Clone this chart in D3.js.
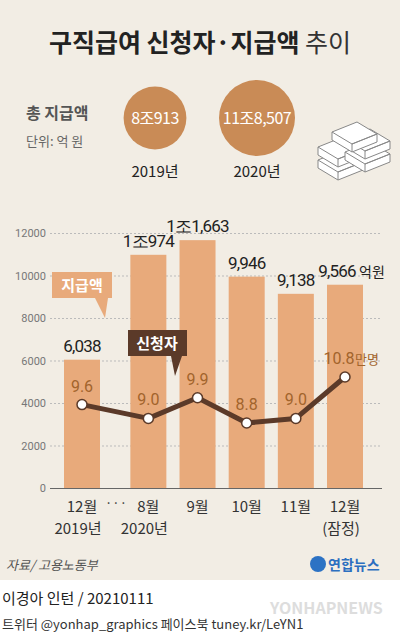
<!DOCTYPE html>
<html><head><meta charset="utf-8">
<script src="https://cdn.jsdelivr.net/npm/d3@7"></script>
<style>body{margin:0;}svg{display:block;font-family:"Noto Sans CJK KR","Noto Sans",sans-serif;}</style>
</head><body><svg id="c" width="400" height="637"></svg>
<script>
const months = ["12월","8월","9월","10월","11월","12월"];
const years = ["2019년","2020년","","","","(잠정)"];
const slots = [0,1.35,2.35,3.35,4.35,5.35];
const amounts = [6038,10974,11663,9946,9138,9566];
const amountLabels = ["6,038","1조974","1조1,663","9,946","9,138","9,566"];
const applicants = [9.6,9.0,9.9,8.8,9.0,10.8];
const applicantLabels = ["9.6","9.0","9.9","8.8","9.0","10.8"];
const yTicks = [0,2000,4000,6000,8000,10000,12000];
const totals = [{label:"8조913",year:"2019년",v:80913},{label:"11조8,507",year:"2020년",v:118507}];

const svg = d3.select("#c");
svg.append("rect").attr("width",400).attr("height",580).attr("fill","#f2ede4");
svg.append("rect").attr("y",580).attr("width",400).attr("height",57).attr("fill","#fff");

svg.append("text").attr("x",200).attr("y",52).attr("text-anchor","middle").attr("font-size",25).attr("font-weight",700).attr("fill","#222")
  .text("구직급여 신청자·지급액 ").append("tspan").attr("font-weight",400).attr("fill","#333").text("추이");

svg.append("text").attr("x",26).attr("y",119).attr("font-size",16).attr("font-weight",700).attr("fill","#555").text("총 지급액");
svg.append("text").attr("x",26).attr("y",146).attr("font-size",13).attr("fill","#666").text("단위: 억 원");

const rScale = d3.scaleSqrt().domain([0,118507]).range([0,38]);
const cx = [155,257];
totals.forEach((t,i)=>{
  svg.append("circle").attr("cx",cx[i]).attr("cy",118).attr("r",rScale(t.v)).attr("fill","#c98b56");
  svg.append("text").attr("x",cx[i]).attr("y",124).attr("text-anchor","middle").attr("font-size",16).attr("fill","#fff").attr("letter-spacing",-0.5).text(t.label);
  svg.append("text").attr("x",cx[i]).attr("y",177).attr("text-anchor","middle").attr("font-size",15).attr("fill","#222").text(t.year);
});
const ic = svg.append("g").attr("fill","#fff").attr("stroke","#888").attr("stroke-width",1);
[[318,160],[318,147],[345,152],[345,139],[332,132]].forEach(([x,y])=>{
  ic.append("path").attr("d",`M${x},${y} l25,-10 l20,12 l-25,10 z M${x},${y} v8 l20,12 v-8 M${x+20},${y+12} l25,-10 v8 l-25,10`);
});

const y = d3.scaleLinear().domain([0,12000]).range([488,233]);
const xs = d3.scaleLinear().domain([0,5.35]).range([82,345]);
const bw = 36;
const yl = d3.scaleLinear().domain([8.8,10.8]).range([423,377]);

const ga = svg.append("g").attr("transform","translate(50,0)").call(d3.axisLeft(y).tickValues(yTicks).tickSize(-332).tickFormat(d3.format("d")));
ga.select(".domain").remove();
ga.selectAll(".tick line").attr("stroke","#bbb").attr("stroke-dasharray","2,2");
ga.selectAll(".tick text").attr("font-size",11).attr("fill","#777").attr("x",-4).attr("font-family","Roboto,sans-serif");
ga.selectAll(".tick").filter(d=>d===0).select("line").attr("stroke","#666").attr("stroke-dasharray",null).attr("stroke-width",1.2);

const cxs = i=>xs(slots[i]);
svg.selectAll(".bar").data(amounts).join("rect").attr("x",(d,i)=>cxs(i)-bw/2).attr("width",bw)
  .attr("y",d=>y(d)).attr("height",d=>488-y(d)).attr("fill","#e8aa7b");
svg.selectAll(".bl").data(amountLabels).join("text").attr("x",(d,i)=>cxs(i)+(i===5?-8:0)).attr("y",(d,i)=>y(amounts[i])-8)
  .attr("text-anchor","middle").attr("font-size",17).attr("fill","#222").attr("font-family","Roboto,sans-serif").attr("letter-spacing",-0.8).text(d=>d);
svg.append("text").attr("x",cxs(5)+14).attr("y",y(amounts[5])-8).attr("font-size",14).attr("fill","#222").text("억원");

svg.append("path").attr("d","M52,272 h60 v26 h-4 l-3,20 l-10,-20 h-43 z").attr("fill","#e8aa7b");
svg.append("text").attr("x",82).attr("y",291).attr("text-anchor","middle").attr("font-size",15).attr("font-weight",700).attr("fill","#fff").text("지급액");
svg.append("path").attr("d","M128,330 h59 v26 h-5 l-7,20 l-4,-20 h-43 z").attr("fill","#5b3a29");
svg.append("text").attr("x",157).attr("y",349).attr("text-anchor","middle").attr("font-size",15).attr("font-weight",700).attr("fill","#fff").text("신청자");

svg.append("path").datum(applicants).attr("d",d3.line().x((d,i)=>cxs(i)).y(d=>yl(d)))
  .attr("fill","none").attr("stroke","#5b3a29").attr("stroke-width",5).attr("stroke-linejoin","round");
svg.selectAll(".pt").data(applicants).join("circle").attr("cx",(d,i)=>cxs(i)).attr("cy",d=>yl(d)).attr("r",5)
  .attr("fill","#fff").attr("stroke","#5b3a29").attr("stroke-width",1.5);
svg.selectAll(".pl").data(applicantLabels).join("text").attr("x",(d,i)=>cxs(i)+(i===5?-6:0)).attr("y",(d,i)=>yl(applicants[i])-13)
  .attr("text-anchor","middle").attr("font-size",16).attr("fill","#a2642c").attr("font-family","Roboto,sans-serif").text(d=>d);
svg.append("text").attr("x",cxs(5)+10).attr("y",yl(10.8)-13).attr("font-size",13).attr("fill","#a2642c").text("만명");

svg.selectAll(".xm").data(months).join("text").attr("x",(d,i)=>cxs(i)).attr("y",512).attr("text-anchor","middle").attr("font-size",15).attr("fill","#333").text(d=>d);
svg.selectAll(".xy").data(years).join("text").attr("x",(d,i)=>cxs(i)-4).attr("y",534).attr("text-anchor","middle").attr("font-size",15).attr("fill","#333").text(d=>d);
svg.append("text").attr("x",116).attr("y",508).attr("text-anchor","middle").attr("font-size",13).attr("fill","#333").text("···");

svg.append("text").attr("x",6).attr("y",570).attr("font-size",13).attr("fill","#555").attr("font-style","italic").text("자료/ 고용노동부");
svg.append("circle").attr("cx",318).attr("cy",564).attr("r",8).attr("fill","#2c72c4");
svg.append("text").attr("x",328).attr("y",570).attr("font-size",14).attr("font-weight",700).attr("fill","#2c6fc0").text("연합뉴스");

svg.append("text").attr("x",2).attr("y",604).attr("font-size",15).attr("fill","#222").text("이경아 인턴 / 20210111");
svg.append("text").attr("x",2).attr("y",629).attr("font-size",13).attr("fill","#333").text("트위터 @yonhap_graphics  페이스북 tuney.kr/LeYN1");
svg.append("text").attr("x",270).attr("y",614).attr("font-size",16).attr("font-weight",700).attr("fill","#ddd").text("YONHAPNEWS");
</script></body></html>
